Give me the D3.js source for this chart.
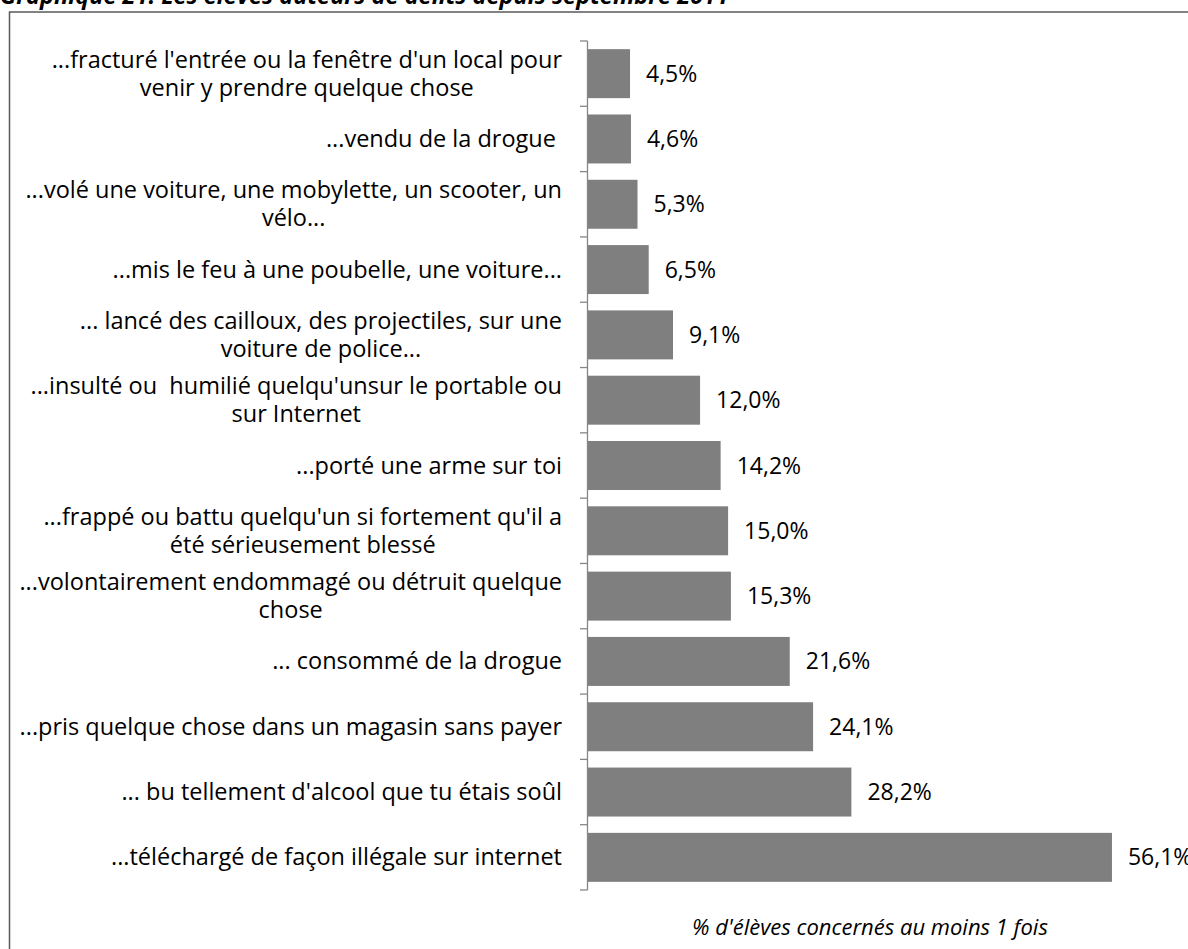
<!DOCTYPE html>
<html>
<head>
<meta charset="utf-8">
<script src="https://cdn.jsdelivr.net/npm/d3@7"></script>
<style>
	body { margin: 0; background: #fff; }
	svg { display: block; }
	text { font-family: "Open Sans", Lato, "Noto Sans", sans-serif; fill: #000; white-space: pre; }
</style>
</head>
<body>
<div id="chart"></div>
<script>
// categories, top to bottom, already split on the lines as in the picture
var categories = [
	["...fracturé l'entrée ou la fenêtre d'un local pour", "venir y prendre quelque chose"],
	["...vendu de la drogue "],
	["...volé une voiture, une mobylette, un scooter, un", "vélo..."],
	["...mis le feu à une poubelle, une voiture..."],
	["... lancé des cailloux, des projectiles, sur une", "voiture de police..."],
	["...insulté ou  humilié quelqu'unsur le portable ou", "sur Internet"],
	["...porté une arme sur toi"],
	["...frappé ou battu quelqu'un si fortement qu'il a", "été sérieusement blessé"],
	["...volontairement endommagé ou détruit quelque", "chose"],
	["... consommé de la drogue"],
	["...pris quelque chose dans un magasin sans payer"],
	["... bu tellement d'alcool que tu étais soûl"],
	["...téléchargé de façon illégale sur internet"]
]
var values = [4.5, 4.6, 5.3, 6.5, 9.1, 12.0, 14.2, 15.0, 15.3, 21.6, 24.1, 28.2, 56.1]

var title = "Graphique 21: Les élèves auteurs de délits depuis septembre 2011"
var axisTitle = "% d'élèves concernés au moins 1 fois"

var width = 1188
var height = 949
var x0 = 588
var plotTop = 41
var plotBottom = 890

var svg = d3.select('#chart').append('svg')
	.attr('width', width)
	.attr('height', height)

// title, cut off at the top like the source
svg.append('text')
	.attr('x', 0)
	.attr('y', 4)
	.style('font-size', '23.5px')
	.style('font-weight', 'bold')
	.style('font-style', 'italic')
	.text(title)

// chart frame (runs off the right and bottom)
svg.append('path')
	.attr('d', 'M9.5,' + (height + 5) + 'V12H' + (width + 5))
	.attr('fill', 'none')
	.attr('stroke', '#595959')
	.attr('stroke-width', 1.5)

var x = d3.scaleLinear()
	.domain([0, 60])
	.range([x0, x0 + 9.34 * 60])

var y = d3.scaleBand()
	.domain(d3.range(values.length))
	.range([plotTop, plotBottom])
	.paddingInner(0.25)
	.paddingOuter(0.125)

var yTicks = d3.scaleLinear().domain([0, values.length]).range([plotTop, plotBottom])

// bars
svg.selectAll('.bar')
	.data(values)
	.enter().append('rect')
		.attr('class', 'bar')
		.attr('x', x(0))
		.attr('y', function(d, i) { return y(i) })
		.attr('width', function(d) { return x(d) - x(0) })
		.attr('height', y.bandwidth())
		.attr('fill', '#7f7f7f')

// axis line and ticks
var axis = svg.append('g').attr('stroke', '#868686').attr('stroke-width', 1.3)
axis.append('line')
	.attr('x1', x0 - 0.5).attr('x2', x0 - 0.5)
	.attr('y1', plotTop).attr('y2', plotBottom)
axis.selectAll('.tick')
	.data(d3.range(values.length + 1))
	.enter().append('line')
		.attr('x1', x0 - 8).attr('x2', x0 - 0.5)
		.attr('y1', function(d) { return yTicks(d) })
		.attr('y2', function(d) { return yTicks(d) })

// value labels
svg.selectAll('.val')
	.data(values)
	.enter().append('text')
		.attr('class', 'val')
		.attr('x', function(d) { return x(d) + 16 })
		.attr('y', function(d, i) { return y(i) + y.bandwidth() / 2 + 8 })
		.style('font-size', '23px')
		.text(function(d) { return d.toFixed(1).replace('.', ',') + '%' })

// category labels: block right-aligned to the axis, lines centred inside it
var lineH = 28
var labels = svg.selectAll('.cat')
	.data(categories)
	.enter().append('text')
		.attr('class', 'cat')
		.style('font-size', '23.5px')
		.attr('text-anchor', 'middle')

labels.each(function(lines, i) {
	var el = d3.select(this)
	var cy = y(i) + y.bandwidth() / 2
	var first = cy - (lines.length - 1) * lineH / 2 + 8
	lines.forEach(function(l, j) {
		el.append('tspan').attr('y', first + j * lineH).text(l)
	})
	var w = d3.max(el.selectAll('tspan').nodes(), function(n) { return n.getComputedTextLength() })
	el.selectAll('tspan').attr('x', 562 - w / 2)
})

svg.append('text')
	.attr('x', 870)
	.attr('y', 935)
	.attr('text-anchor', 'middle')
	.style('font-size', '22px')
	.style('font-style', 'italic')
	.text(axisTitle)
</script>
</body>
</html>
